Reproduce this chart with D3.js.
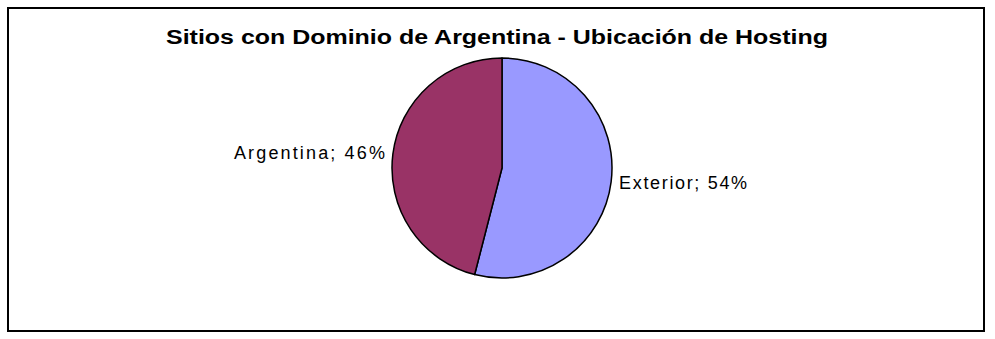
<!DOCTYPE html>
<html>
<head>
<meta charset="utf-8">
<script src="https://cdn.jsdelivr.net/npm/d3@7"></script>
<style>
  html, body { margin: 0; padding: 0; background: #fff; }
  svg { display: block; }
  text { font-family: Arial, "Liberation Sans", sans-serif; fill: #000; }
</style>
</head>
<body>
<svg id="chart" width="995" height="339"></svg>
<script>
const categories = ["Exterior", "Argentina"];
const values = [54, 46];
const colors = ["#9999FF", "#993366"];
const title = "Sitios con Dominio de Argentina - Ubicación de Hosting";

const svg = d3.select("#chart");
const W = 995, H = 339;

svg.append("rect")
  .attr("x", 8).attr("y", 8).attr("width", 976).attr("height", 323)
  .attr("fill", "#fff").attr("stroke", "#000").attr("stroke-width", 2);

svg.append("text")
  .attr("x", 497).attr("y", 44)
  .attr("text-anchor", "middle")
  .attr("font-size", 20).attr("font-weight", "bold")
  .attr("textLength", 662).attr("lengthAdjust", "spacingAndGlyphs")
  .text(title);

const cx = 502, cy = 168, r = 110;
const data = categories.map((c, i) => ({ name: c, value: values[i], color: colors[i] }));
const pie = d3.pie().value(d => d.value).sort(null);
const arc = d3.arc().innerRadius(0).outerRadius(r);
const arcs = pie(data);

const g = svg.append("g").attr("transform", `translate(${cx},${cy})`);
g.selectAll("path").data(arcs).enter().append("path")
  .attr("d", arc)
  .attr("fill", d => d.data.color)
  .attr("stroke", "#000").attr("stroke-width", 1.5)
  .attr("stroke-linejoin", "round");

const labelLens = { "Exterior": 128, "Argentina": 151 };
g.selectAll("text.lbl").data(arcs).enter().append("text")
  .attr("class", "lbl")
  .each(function(d) {
    const a = (d.startAngle + d.endAngle) / 2;
    const rr = r + 8;
    const x = rr * Math.sin(a);
    const y = -rr * Math.cos(a);
    const sel = d3.select(this);
    sel.attr("x", x).attr("y", y + 6)
      .attr("text-anchor", x < 0 ? "end" : "start")
      .attr("font-size", 18)
      .attr("textLength", labelLens[d.data.name])
      .attr("lengthAdjust", "spacing")
      .text(`${d.data.name}; ${d.data.value}%`);
  });
</script>
</body>
</html>
